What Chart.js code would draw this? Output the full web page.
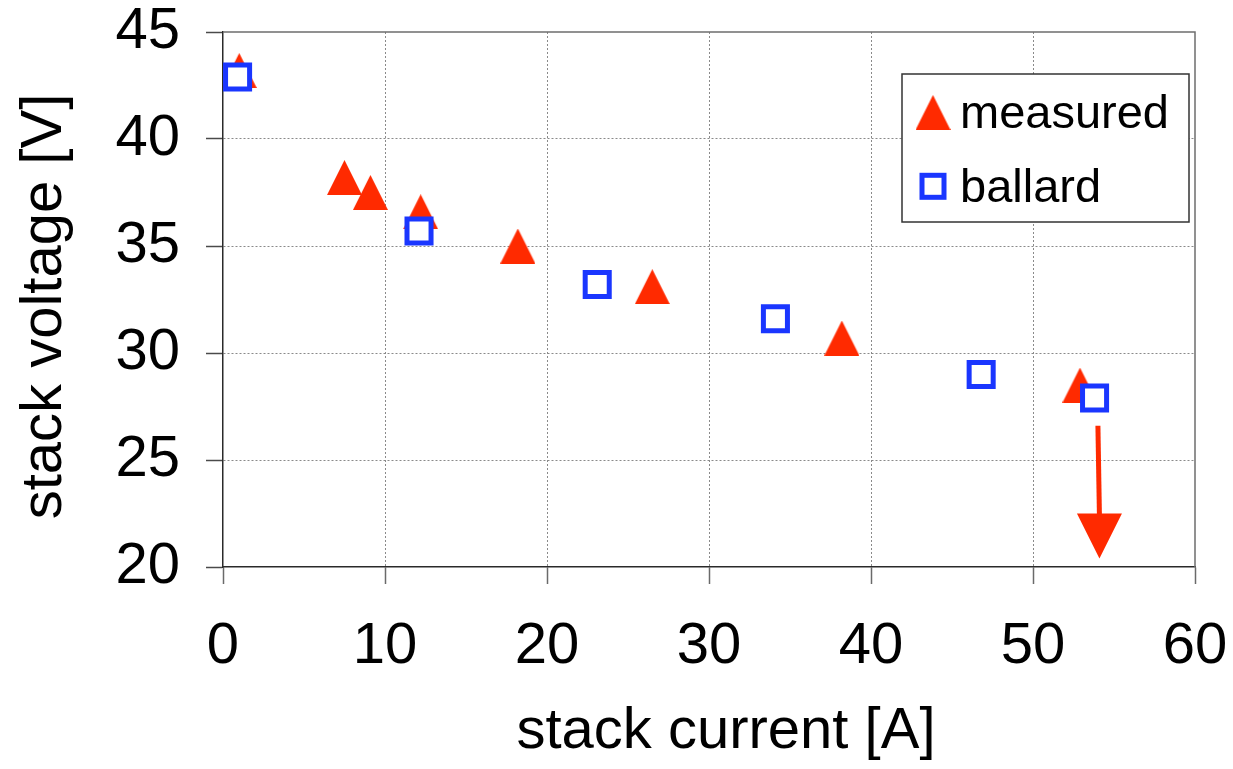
<!DOCTYPE html>
<html>
<head>
<meta charset="utf-8">
<title>stack voltage vs stack current</title>
<script src="https://cdn.jsdelivr.net/npm/chart.js@4/dist/chart.umd.min.js"></script>
<style>
  html, body { margin: 0; padding: 0; background: #ffffff; }
  canvas { display: block; }
</style>
</head>
<body>
<canvas id="chart" width="1233" height="769"></canvas>
<script>
// Polarisation curve of the fuel-cell stack
const measuredCurrent = [1.0, 7.5, 9.1, 12.2, 18.2, 26.5, 38.2, 52.9];
const measuredVoltage = [43.2, 38.2, 37.5, 36.6, 35.0, 33.1, 30.7, 28.5];
const ballardCurrent = [0.9, 12.1, 23.1, 34.1, 46.8, 53.8];
const ballardVoltage = [42.9, 35.7, 33.2, 31.6, 29.0, 27.9];
const seriesNames = ['measured', 'ballard'];

const xTickValues = [0, 10, 20, 30, 40, 50, 60];
const yTickValues = [20, 25, 30, 35, 40, 45];
const xAxisTitle = 'stack current [A]';
const yAxisTitle = 'stack voltage [V]';

// downward arrow below the last operating point
const arrowCurrent = [54.1];
const arrowVoltage = [26.6, 20.4];

const RED = '#ff2a00';
const BLUE = '#1a36ff';
const FONT = '"Liberation Sans", Arial, Helvetica, sans-serif';

function toPoints(xs, ys) {
  return xs.map((x, i) => ({ x: x, y: ys[i] }));
}

function triangleMarker(w, h, color) {
  const c = document.createElement('canvas');
  c.width = w; c.height = h;
  const g = c.getContext('2d');
  g.fillStyle = color;
  g.beginPath();
  g.moveTo(w / 2, 0);
  g.lineTo(w, h);
  g.lineTo(0, h);
  g.closePath();
  g.fill();
  return c;
}

const triangle = triangleMarker(35, 35, RED);

// top and right edges of the plot frame
const plotFrame = {
  id: 'plotFrame',
  beforeDatasetsDraw(chart) {
    const { ctx, chartArea: a } = chart;
    ctx.save();
    ctx.strokeStyle = '#6e6e6e';
    ctx.lineWidth = 1.5;
    ctx.beginPath();
    ctx.moveTo(a.left, a.top);
    ctx.lineTo(a.right, a.top);
    ctx.lineTo(a.right, a.bottom);
    ctx.stroke();
    ctx.restore();
  }
};

// axis titles, placed relative to the plot area
const axisTitles = {
  id: 'axisTitles',
  afterDraw(chart) {
    const { ctx, chartArea: a } = chart;
    ctx.save();
    ctx.fillStyle = '#000000';
    ctx.font = '58px ' + FONT;
    ctx.textAlign = 'center';
    ctx.textBaseline = 'alphabetic';
    ctx.fillText(xAxisTitle, (a.left + a.right) / 2 + 17, a.bottom + 181);
    ctx.translate(a.left - 162, (a.top + a.bottom) / 2 + 7);
    ctx.rotate(-Math.PI / 2);
    ctx.fillText(yAxisTitle, 0, 0);
    ctx.restore();
  }
};

const downArrow = {
  id: 'downArrow',
  afterDatasetsDraw(chart) {
    const { ctx, scales: { x, y } } = chart;
    const px = x.getPixelForValue(arrowCurrent[0]);
    const yStart = y.getPixelForValue(arrowVoltage[0]);
    const yTip = y.getPixelForValue(arrowVoltage[1]);
    const headLen = 45, headHalf = 22.5;
    ctx.save();
    ctx.strokeStyle = RED;
    ctx.fillStyle = RED;
    ctx.lineWidth = 5;
    ctx.beginPath();
    ctx.moveTo(px - 1.5, yStart);
    ctx.lineTo(px, yTip - headLen + 2);
    ctx.stroke();
    ctx.beginPath();
    ctx.moveTo(px - headHalf, yTip - headLen);
    ctx.lineTo(px + headHalf, yTip - headLen);
    ctx.lineTo(px, yTip);
    ctx.closePath();
    ctx.fill();
    ctx.restore();
  }
};

// boxed legend in the upper right of the plot
const boxLegend = {
  id: 'boxLegend',
  afterDraw(chart) {
    const { ctx, chartArea: a } = chart;
    const left = a.right - 293, top = a.top + 42, w = 287, h = 148;
    ctx.save();
    ctx.fillStyle = '#ffffff';
    ctx.fillRect(left, top, w, h);
    ctx.strokeStyle = '#333333';
    ctx.lineWidth = 1.5;
    ctx.strokeRect(left, top, w, h);

    const rows = [
      { marker: 38.5, baseline: 54 },
      { marker: 112.3, baseline: 127.7 }
    ];
    chart.data.datasets.forEach((ds, i) => {
      const cx = left + 31, cy = top + rows[i].marker;
      if (ds.pointStyle instanceof HTMLCanvasElement) {
        const img = ds.pointStyle;
        ctx.drawImage(img, cx - img.width / 2, cy - img.height / 2);
      } else {
        ctx.fillStyle = '#ffffff';
        ctx.strokeStyle = ds.borderColor;
        ctx.lineWidth = 5;
        ctx.fillRect(cx - 11, cy - 11, 22, 22);
        ctx.strokeRect(cx - 11, cy - 11, 22, 22);
      }
      ctx.fillStyle = '#000000';
      ctx.font = '47px ' + FONT;
      ctx.textAlign = 'left';
      ctx.textBaseline = 'alphabetic';
      ctx.fillText(ds.label, left + 58, top + rows[i].baseline);
    });
    ctx.restore();
  }
};

function edgeGrid(values) {
  const lo = values[0], hi = values[values.length - 1];
  return (c) => {
    const v = c.tick ? c.tick.value : null;
    return (v === lo || v === hi) ? 'rgba(0,0,0,0)' : '#8a8a8a';
  };
}

new Chart(document.getElementById('chart'), {
  type: 'scatter',
  data: {
    datasets: [
      {
        label: seriesNames[0],
        data: toPoints(measuredCurrent, measuredVoltage),
        pointStyle: triangle,
        backgroundColor: RED,
        borderColor: RED,
        order: 1
      },
      {
        label: seriesNames[1],
        data: toPoints(ballardCurrent, ballardVoltage),
        pointStyle: 'rect',
        pointRadius: 17,
        pointBorderWidth: 5,
        backgroundColor: '#ffffff',
        borderColor: BLUE,
        order: 0
      }
    ]
  },
  options: {
    responsive: false,
    animation: false,
    devicePixelRatio: 1,
    layout: { padding: { left: 0, top: 32, right: 38, bottom: 0 } },
    plugins: {
      legend: { display: false },
      tooltip: { enabled: false }
    },
    elements: { point: { hoverRadius: 17 } },
    scales: {
      x: {
        type: 'linear',
        min: xTickValues[0],
        max: xTickValues[xTickValues.length - 1],
        afterBuildTicks(scale) { scale.ticks = xTickValues.map(v => ({ value: v })); },
        ticks: {
          color: '#000000',
          font: { family: FONT, size: 58 },
          padding: 28,
          maxRotation: 0
        },
        grid: {
          color: edgeGrid(xTickValues),
          lineWidth: 1,
          tickLength: 17,
          tickColor: '#6a6a6a',
          tickWidth: 1.5
        },
        border: { display: true, color: '#2a2a2a', width: 1.5, dash: [2, 2] },
        afterFit(scale) {
          scale.height = 202;
          scale.paddingLeft = 0;
          scale.paddingRight = 0;
        }
      },
      y: {
        type: 'linear',
        min: yTickValues[0],
        max: yTickValues[yTickValues.length - 1],
        afterBuildTicks(scale) { scale.ticks = yTickValues.map(v => ({ value: v })); },
        ticks: {
          color: '#000000',
          font: { family: FONT, size: 58 },
          padding: 26
        },
        grid: {
          color: edgeGrid(yTickValues),
          lineWidth: 1,
          tickLength: 17,
          tickColor: '#4a4a4a',
          tickWidth: 1.5
        },
        border: { display: true, color: '#2a2a2a', width: 1.5, dash: [2, 2] },
        afterFit(scale) {
          scale.width = 223;
          scale.paddingTop = 0;
          scale.paddingBottom = 0;
        }
      }
    }
  },
  plugins: [plotFrame, downArrow, boxLegend, axisTitles]
});
</script>
</body>
</html>
